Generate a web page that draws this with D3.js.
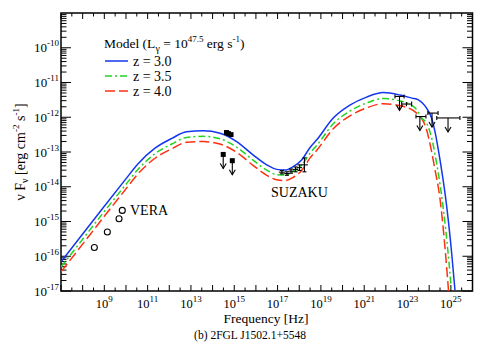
<!DOCTYPE html>
<html><head><meta charset="utf-8">
<script src="https://cdn.jsdelivr.net/npm/d3@7"></script>
<style>
body{margin:0;background:#fff}
svg{display:block}
text{font-family:"Liberation Serif","Times New Roman",serif;fill:#000}
</style></head><body>
<svg id="chart" width="500" height="349"></svg>
<script>
// ---- axes (log10 exponents) ----
const xDomainExp = [7, 26];
const yDomainExp = [-17, -9];
const xTickExps = [9, 11, 13, 15, 17, 19, 21, 23, 25];
const yTickExps = [-17, -16, -15, -14, -13, -12, -11, -10];

// ---- model curves: log10(nu [Hz]) and log10(nuFnu) ----
const blueLogNu = [7.0, 8.0, 9.0, 9.95, 10.57, 11.34, 12.11, 12.8, 13.57, 14.34, 15.11, 15.88, 16.5, 16.96, 17.34, 17.72, 18.11, 18.5, 18.81, 19.57, 20.34, 21.11, 21.88, 22.65, 23.2, 23.5, 23.88, 24.11, 24.27, 24.5, 24.81, 25.04, 25.19];
const blueLogF  = [-16.16, -15.36, -14.56, -13.81, -13.33, -12.89, -12.61, -12.42, -12.39, -12.46, -12.7, -13.09, -13.37, -13.5, -13.52, -13.42, -13.23, -12.87, -12.65, -12.02, -11.65, -11.42, -11.29, -11.36, -11.45, -11.5, -11.74, -12.02, -12.42, -13.23, -14.57, -15.92, -16.97];

const greenLogNu = [7.0, 8.0, 9.0, 9.95, 10.57, 11.34, 12.11, 12.8, 13.57, 14.34, 15.11, 15.88, 16.5, 16.96, 17.34, 17.72, 18.11, 18.5, 18.81, 19.57, 20.34, 21.11, 21.88, 22.65, 23.2, 23.42, 23.65, 23.88, 24.05, 24.35, 24.65, 24.88, 25.03];
const greenLogF  = [-16.31, -15.51, -14.71, -13.97, -13.49, -13.05, -12.77, -12.58, -12.55, -12.62, -12.86, -13.24, -13.52, -13.65, -13.66, -13.56, -13.38, -13.03, -12.81, -12.19, -11.82, -11.59, -11.46, -11.53, -11.66, -11.78, -12.02, -12.17, -12.45, -13.35, -14.62, -15.95, -17.0];

const redLogNu = [7.0, 8.0, 9.0, 9.95, 10.57, 11.34, 12.11, 12.8, 13.57, 14.34, 15.11, 15.88, 16.5, 16.96, 17.34, 17.72, 18.11, 18.5, 18.81, 19.57, 20.34, 21.11, 21.88, 22.65, 23.2, 23.5, 23.73, 23.88, 24.05, 24.25, 24.5, 24.73, 24.9];
const redLogF  = [-16.45, -15.65, -14.85, -14.1, -13.62, -13.18, -12.91, -12.72, -12.7, -12.77, -13.01, -13.39, -13.67, -13.8, -13.82, -13.73, -13.53, -13.17, -12.95, -12.33, -11.96, -11.73, -11.61, -11.67, -11.78, -11.93, -12.12, -12.36, -12.8, -13.45, -14.35, -15.75, -17.05];

const seriesNames = ["z = 3.0", "z = 3.5", "z = 4.0"];
const seriesColors = ["#1436f0", "#22d422", "#ff3010"];
const seriesDash = [null, "7,3,2,3", "10,4"];

// ---- observations ----
const veraLogNu = [8.54, 9.14, 9.68, 9.83];
const veraLogF  = [-15.75, -15.30, -14.92, -14.68];

const optLogNu = [14.64, 14.73, 14.85];
const optLogF  = [-12.44, -12.47, -12.50];

const optUlLogNu = [14.49, 14.91];
const optUlLogF  = [-13.07, -13.25];

const suzakuLogNu = [17.20, 17.43, 17.62, 17.83, 18.01, 18.24];
const suzakuLogF  = [-13.58, -13.62, -13.55, -13.50, -13.45, -13.37];
const suzakuXErr  = [0.14, 0.12, 0.12, 0.12, 0.12, 0.16];
const suzakuYErr  = [0.05, 0.05, 0.06, 0.07, 0.08, 0.2];

const fermiUlLo    = [22.42, 23.39, 23.94, 24.35];
const fermiUlHi    = [22.84, 23.85, 24.41, 25.42];
const fermiUlLogNu = [22.63, 23.57, 24.13, 24.87];
const fermiUlLogF  = [-11.40, -11.98, -11.88, -12.02];

const fermiPtLogNu = [22.95];
const fermiPtLo    = [22.73];
const fermiPtHi    = [23.19];
const fermiPtLogF  = [-11.62];
const fermiPtYErr  = [0.06];

// ---- drawing ----
const P = v => Math.pow(10, v);
const svg = d3.select("#chart");
const L = 61, R = 472.5, T = 13, B = 291;
const x = d3.scaleLog().domain(xDomainExp.map(P)).range([L, R]);
const y = d3.scaleLog().domain(yDomainExp.map(P)).range([B, T]);
const X = e => x(P(e)), Y = e => y(P(e));

svg.append("defs").append("clipPath").attr("id", "clip")
  .append("rect").attr("x", L).attr("y", T).attr("width", R - L).attr("height", B - T);

// ticks
const tickG = svg.append("g").attr("stroke", "#000").attr("stroke-width", 1);
for (let e = xDomainExp[0]; e <= xDomainExp[1]; e += 0.5) {
  const px = X(e);
  const len = Number.isInteger(e) ? 6 : 3.5;
  tickG.append("line").attr("x1", px).attr("x2", px).attr("y1", B).attr("y2", B - len);
  tickG.append("line").attr("x1", px).attr("x2", px).attr("y1", T).attr("y2", T + len);
}
for (let e = yDomainExp[0]; e < yDomainExp[1]; e++) {
  for (let m = 1; m <= 9; m++) {
    const py = y(m * P(e));
    const len = m === 1 ? 10 : 5.5;
    tickG.append("line").attr("x1", L).attr("x2", L + len).attr("y1", py).attr("y2", py);
    tickG.append("line").attr("x1", R).attr("x2", R - len).attr("y1", py).attr("y2", py);
  }
}

// frame
svg.append("rect").attr("x", L).attr("y", T).attr("width", R - L).attr("height", B - T)
  .attr("fill", "none").attr("stroke", "#000").attr("stroke-width", 1.5);

// tick labels
yTickExps.forEach(e => {
  const t = svg.append("text").attr("x", 59).attr("y", Y(e) + 4.5).attr("text-anchor", "end").attr("font-size", 13);
  t.append("tspan").text("10");
  t.append("tspan").attr("font-size", 9).attr("dy", -6).text(String(e));
});
xTickExps.forEach(e => {
  const t = svg.append("text").attr("x", X(e)).attr("y", 307.5).attr("text-anchor", "middle").attr("font-size", 12.5);
  t.append("tspan").text("10");
  t.append("tspan").attr("font-size", 9).attr("dy", -6).text(String(e));
});

// axis titles
svg.append("text").attr("x", 266).attr("y", 323).attr("text-anchor", "middle").attr("font-size", 13.5)
  .text("Frequency [Hz]");
{
  const t = svg.append("text").attr("transform", "translate(25,152) rotate(-90)")
    .attr("text-anchor", "middle").attr("font-size", 14);
  t.append("tspan").text("\u03bd F");
  t.append("tspan").attr("font-size", 10).attr("dy", 3).text("\u03bd");
  t.append("tspan").attr("dy", -3).text(" [erg cm");
  t.append("tspan").attr("font-size", 9).attr("dy", -6).text("-2");
  t.append("tspan").attr("dy", 6).text(" s");
  t.append("tspan").attr("font-size", 9).attr("dy", -6).text("-1");
  t.append("tspan").attr("dy", 6).text("]");
}
svg.append("text").attr("x", 250).attr("y", 339).attr("text-anchor", "middle").attr("font-size", 11.5)
  .text("(b) 2FGL J1502.1+5548");

// curves
const curveData = [
  d3.zip(blueLogNu, blueLogF),
  d3.zip(greenLogNu, greenLogF),
  d3.zip(redLogNu, redLogF)
];
const line = d3.line().x(d => X(d[0])).y(d => Y(d[1])).curve(d3.curveMonotoneX);
const cg = svg.append("g").attr("clip-path", "url(#clip)");
[2, 1, 0].forEach(i => {
  cg.append("path").attr("d", line(curveData[i])).attr("fill", "none")
    .attr("stroke", seriesColors[i]).attr("stroke-width", 1.5)
    .attr("stroke-dasharray", seriesDash[i]);
});

// legend
{
  const t = svg.append("text").attr("x", 104).attr("y", 48).attr("font-size", 13.5);
  t.append("tspan").text("Model (L");
  t.append("tspan").attr("font-size", 10).attr("dy", 4).text("\u03b3");
  t.append("tspan").attr("dy", -4).text(" = 10");
  t.append("tspan").attr("font-size", 9).attr("dy", -6).text("47.5");
  t.append("tspan").attr("dy", 6).text(" erg s");
  t.append("tspan").attr("font-size", 9).attr("dy", -6).text("-1");
  t.append("tspan").attr("dy", 6).text(")");
}
seriesNames.forEach((n, i) => {
  const ly = 61 + i * 15;
  svg.append("line").attr("x1", 105).attr("x2", 128).attr("y1", ly).attr("y2", ly)
    .attr("stroke", seriesColors[i]).attr("stroke-width", 1.5).attr("stroke-dasharray", seriesDash[i]);
  svg.append("text").attr("x", 133).attr("y", ly + 5).attr("font-size", 14).text(n);
});

// data marks
const dg = svg.append("g").attr("stroke", "#000").attr("stroke-width", 1.1).attr("fill", "none");
function arrow(px, py, len) {
  dg.append("line").attr("x1", px).attr("x2", px).attr("y1", py).attr("y2", py + len);
  dg.append("path").attr("d", `M${px - 3},${py + len - 5}L${px},${py + len}L${px + 3},${py + len - 5}`);
}
// VERA
veraLogNu.forEach((v, i) => {
  dg.append("circle").attr("cx", X(v)).attr("cy", Y(veraLogF[i])).attr("r", 3).attr("fill", "#fff");
});
// optical squares
optLogNu.forEach((v, i) => {
  svg.append("rect").attr("x", X(v) - 2.5).attr("y", Y(optLogF[i]) - 2.5).attr("width", 5).attr("height", 5).attr("fill", "#000");
});
optUlLogNu.forEach((v, i) => {
  const px = X(v), py = Y(optUlLogF[i]);
  arrow(px, py, 14);
  svg.append("rect").attr("x", px - 2.5).attr("y", py - 2.5).attr("width", 5).attr("height", 5).attr("fill", "#000");
});
// SUZAKU
suzakuLogNu.forEach((v, i) => {
  const f = suzakuLogF[i];
  dg.append("line").attr("x1", X(v - suzakuXErr[i])).attr("x2", X(v + suzakuXErr[i])).attr("y1", Y(f)).attr("y2", Y(f));
  const y1 = Y(f + suzakuYErr[i]), y2 = Y(f - suzakuYErr[i]), px = X(v);
  dg.append("line").attr("x1", px).attr("x2", px).attr("y1", y1).attr("y2", y2);
  dg.append("line").attr("x1", px - 2).attr("x2", px + 2).attr("y1", y1).attr("y2", y1);
  dg.append("line").attr("x1", px - 2).attr("x2", px + 2).attr("y1", y2).attr("y2", y2);
});
svg.append("text").attr("x", 271).attr("y", 197).attr("font-size", 14).text("SUZAKU");
svg.append("text").attr("x", 130).attr("y", 215).attr("font-size", 14).text("VERA");
// Fermi upper limits
fermiUlLogNu.forEach((v, i) => {
  const py = Y(fermiUlLogF[i]);
  dg.append("line").attr("x1", X(fermiUlLo[i])).attr("x2", X(fermiUlHi[i])).attr("y1", py).attr("y2", py);
  dg.append("line").attr("x1", X(fermiUlLo[i])).attr("x2", X(fermiUlLo[i])).attr("y1", py - 2).attr("y2", py + 2);
  dg.append("line").attr("x1", X(fermiUlHi[i])).attr("x2", X(fermiUlHi[i])).attr("y1", py - 2).attr("y2", py + 2);
  arrow(X(v), py, 14);
});
fermiPtLogNu.forEach((v, i) => {
  const py = Y(fermiPtLogF[i]), px = X(v);
  dg.append("line").attr("x1", X(fermiPtLo[i])).attr("x2", X(fermiPtHi[i])).attr("y1", py).attr("y2", py);
  dg.append("line").attr("x1", X(fermiPtLo[i])).attr("x2", X(fermiPtLo[i])).attr("y1", py - 2.5).attr("y2", py + 2.5);
  dg.append("line").attr("x1", X(fermiPtHi[i])).attr("x2", X(fermiPtHi[i])).attr("y1", py - 2.5).attr("y2", py + 2.5);
  dg.append("line").attr("x1", px).attr("x2", px).attr("y1", Y(fermiPtLogF[i] + fermiPtYErr[i])).attr("y2", Y(fermiPtLogF[i] - fermiPtYErr[i]));
});
</script>
</body></html>
